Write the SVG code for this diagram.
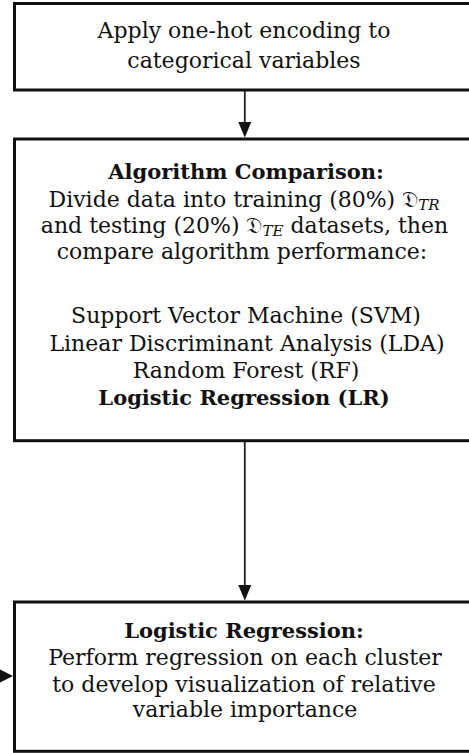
<svg xmlns="http://www.w3.org/2000/svg" width="469" height="753" viewBox="0 0 469 753">
<style>
.box{fill:#fff;stroke:#111;stroke-width:3}
.t{font-family:"DejaVu Serif","Liberation Serif",serif;font-size:22px;fill:#111;text-anchor:middle}
.b{font-weight:bold;font-size:21px}
.sub{font-style:italic;font-size:15px}
.edge{stroke:#222;stroke-width:1.8;fill:none}
.head{fill:#111}
</style>
<rect width="469" height="753" fill="#fff"/>
<g id="connectors">
<line class="edge" x1="244.8" y1="91" x2="244.8" y2="124"/>
<polygon class="head" points="238.3,122 251.3,122 244.8,137.5"/>
<line class="edge" x1="244.8" y1="442" x2="244.8" y2="587"/>
<polygon class="head" points="238.3,585 251.3,585 244.8,600.5"/>
<line class="edge" x1="-20" y1="676" x2="2" y2="676"/>
<polygon class="head" points="0,669.5 0,682.5 13,676"/>
</g>
<g id="node-onehot">
<rect class="box" x="14.5" y="3.5" width="470" height="86.5"/>
<text class="t" x="244" y="38">Apply one-hot encoding to</text>
<text class="t" x="244" y="68">categorical variables</text>
</g>
<g id="node-comparison">
<rect class="box" x="14.5" y="139" width="470" height="301.7"/>
<text class="t b" x="246" y="179">Algorithm Comparison:</text>
<text class="t" x="244" y="207">Divide data into training (80%) 𝔇<tspan class="sub" dy="3">TR</tspan></text>
<text class="t" x="244.5" y="233">and testing (20%) 𝔇<tspan class="sub" dy="3">TE</tspan><tspan dy="-3"> datasets, then</tspan></text>
<text class="t" x="242" y="259">compare algorithm performance:</text>
<text class="t" x="246" y="323">Support Vector Machine (SVM)</text>
<text class="t" x="247" y="351">Linear Discriminant Analysis (LDA)</text>
<text class="t" x="246" y="378">Random Forest (RF)</text>
<text class="t b" x="244" y="405">Logistic Regression (LR)</text>
</g>
<g id="node-logreg">
<rect class="box" x="14.5" y="602" width="470" height="149.3"/>
<text class="t b" x="244" y="638">Logistic Regression:</text>
<text class="t" x="245" y="665">Perform regression on each cluster</text>
<text class="t" x="244" y="692">to develop visualization of relative</text>
<text class="t" x="245" y="717">variable importance</text>
</g>
</svg>
